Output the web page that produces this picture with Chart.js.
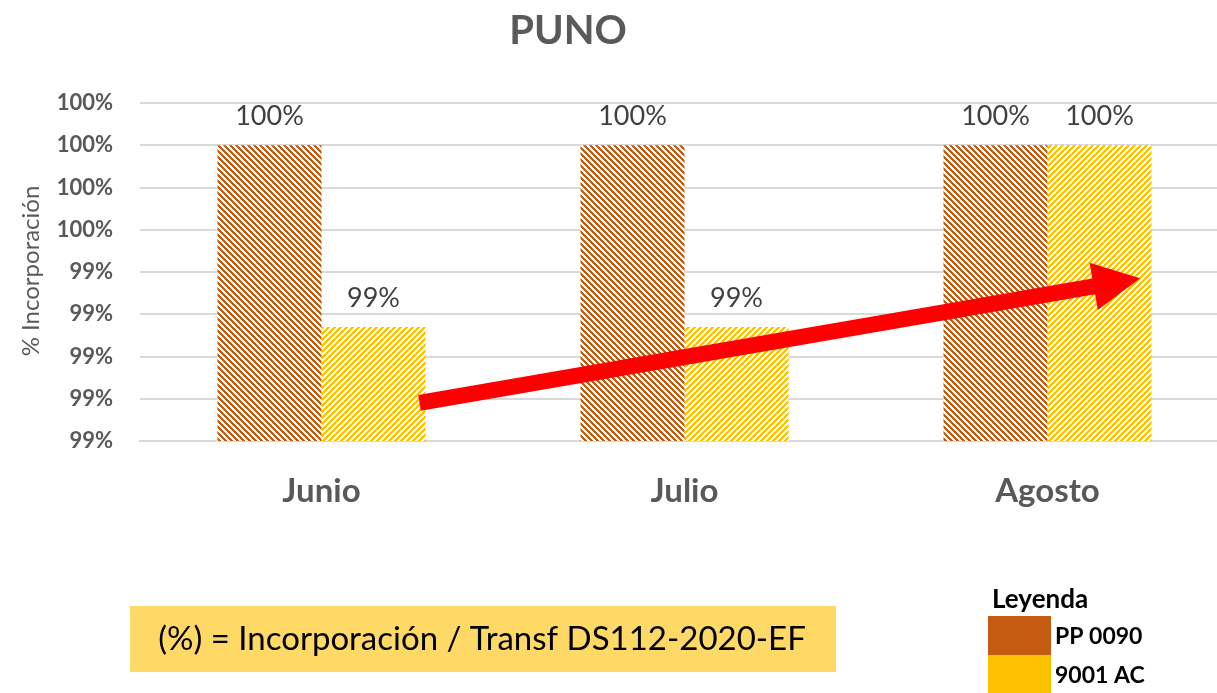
<!DOCTYPE html>
<html>
<head>
<meta charset="utf-8">
<script src="https://cdn.jsdelivr.net/npm/chart.js@4"></script>
<style>
html,body{margin:0;padding:0;background:#fff;overflow:hidden;width:1217px;height:693px;}
#wrap{position:relative;width:1232px;height:693px;}
</style>
</head>
<body>
<div id="wrap"><canvas id="c" width="1232" height="693"></canvas></div>
<script>
const categories = ['Junio', 'Julio', 'Agosto'];
const seriesNames = ['PP 0090', '9001 AC'];
const pp0090 = [1.0, 1.0, 1.0];
const ac9001 = [0.9914, 0.9914, 1.0];
const yTicksMin = 0.986;
const yTicksMax = 1.002;
const yTickStep = 0.002;
const titleText = 'PUNO';
const yAxisTitle = '% Incorporación';
const noteText = '(%) = Incorporación / Transf DS112-2020-EF';
const legendTitle = 'Leyenda';
// trend arrow (category index, value)
const arrowFrom = [0.27, 0.9878];
const arrowTo = [2.255, 0.9937];

const ORANGE = '#C55A11';
const YELLOW = '#FFC000';
const FONT = 'Lato, "Liberation Sans", sans-serif';

function hatch(color, down) {
  const s = 6;
  const c = document.createElement('canvas');
  c.width = s; c.height = s;
  const g = c.getContext('2d');
  g.fillStyle = '#fff'; g.fillRect(0, 0, s, s);
  g.fillStyle = color;
  for (let y = 0; y < s; y++) {
    for (let x = 0; x < s; x++) {
      const k = down ? ((x - y) % s + s) % s : (x + y) % s;
      if (k < 3) g.fillRect(x, y, 1, 1);
    }
  }
  return g.createPattern(c, 'repeat');
}

const pct = v => Math.round(v * 100) + '%';

const decor = {
  id: 'decor',
  afterDatasetsDraw(chart) {
    const ctx = chart.ctx;
    const xs = chart.scales.x, ys = chart.scales.y;
    ctx.save();
    // data labels
    ctx.font = '27px ' + FONT;
    ctx.fillStyle = '#404040';
    ctx.textAlign = 'center';
    ctx.textBaseline = 'middle';
    chart.data.datasets.forEach((ds, di) => {
      chart.getDatasetMeta(di).data.forEach((bar, i) => {
        ctx.fillText(pct(ds.data[i]), bar.x, bar.y - 29);
      });
    });
    // arrow
    const x1 = xs.getPixelForValue(arrowFrom[0]), y1 = ys.getPixelForValue(arrowFrom[1]);
    const x2 = xs.getPixelForValue(arrowTo[0]), y2 = ys.getPixelForValue(arrowTo[1]);
    const ang = Math.atan2(y2 - y1, x2 - x1);
    const headL = 47, headW = 24, shaftW = 8;
    const bx = x2 - headL * Math.cos(ang), by = y2 - headL * Math.sin(ang);
    const nx = -Math.sin(ang), ny = Math.cos(ang);
    ctx.fillStyle = '#FF0000';
    ctx.beginPath();
    ctx.moveTo(x1 + nx * shaftW, y1 + ny * shaftW);
    ctx.lineTo(bx + nx * shaftW, by + ny * shaftW);
    ctx.lineTo(bx + nx * headW, by + ny * headW);
    ctx.lineTo(x2, y2);
    ctx.lineTo(bx - nx * headW, by - ny * headW);
    ctx.lineTo(bx - nx * shaftW, by - ny * shaftW);
    ctx.lineTo(x1 - nx * shaftW, y1 - ny * shaftW);
    ctx.closePath();
    ctx.fill();
    ctx.restore();
  },
  afterDraw(chart) {
    const ctx = chart.ctx;
    ctx.save();
    // title
    ctx.fillStyle = '#595959';
    ctx.font = 'bold 40px ' + FONT;
    ctx.textAlign = 'center';
    ctx.textBaseline = 'middle';
    ctx.fillText(titleText, 568, 31);
    // y axis title
    ctx.save();
    ctx.translate(31, 271);
    ctx.rotate(-Math.PI / 2);
    ctx.font = '24px ' + FONT;
    ctx.fillStyle = '#595959';
    ctx.fillText(yAxisTitle, 0, 0);
    ctx.restore();
    // note box
    ctx.fillStyle = '#FFD966';
    ctx.fillRect(130, 606, 706, 66);
    ctx.fillStyle = '#000';
    ctx.font = '33px ' + FONT;
    ctx.fillText(noteText, 482, 639);
    // legend
    ctx.textAlign = 'left';
    ctx.font = 'bold 26px ' + FONT;
    ctx.fillText(legendTitle, 992, 600);
    const cols = [ORANGE, YELLOW];
    ctx.font = 'bold 23px ' + FONT;
    seriesNames.forEach((n, i) => {
      ctx.fillStyle = cols[i];
      ctx.fillRect(988, 616 + i * 39, 63, 39);
      ctx.fillStyle = '#000';
      ctx.fillText(n, 1055, 637 + i * 39);
    });
    ctx.restore();
  }
};

new Chart(document.getElementById('c'), {
  type: 'bar',
  data: {
    labels: categories,
    datasets: [
      { label: seriesNames[0], data: pp0090, backgroundColor: hatch(ORANGE, true), borderWidth: 0 },
      { label: seriesNames[1], data: ac9001, backgroundColor: hatch(YELLOW, false), borderWidth: 0 }
    ]
  },
  options: {
    responsive: false,
    animation: false,
    devicePixelRatio: 1,
    layout: { padding: { top: 103, right: 3, left: 0, bottom: 0 } },
    plugins: { legend: { display: false }, tooltip: { enabled: false }, title: { display: false } },
    datasets: { bar: { categoryPercentage: 0.573, barPercentage: 1.0 } },
    scales: {
      x: {
        grid: { display: false, drawTicks: false },
        border: { display: true, color: '#d9d9d9', width: 2 },
        ticks: { font: { family: FONT, size: 33, weight: 'bold' }, color: '#595959', padding: 31 },
        afterFit: s => { s.height = 693 - 441; }
      },
      y: {
        min: yTicksMin, max: yTicksMax,
        grid: { color: '#d9d9d9', lineWidth: 2, drawTicks: false },
        border: { display: false },
        ticks: {
          stepSize: yTickStep,
          font: { family: FONT, size: 22, weight: 'bold' },
          color: '#595959',
          padding: 27,
          callback: v => pct(v)
        },
        afterFit: s => { s.width = 140; }
      }
    }
  },
  plugins: [decor]
});
</script>
</body>
</html>
